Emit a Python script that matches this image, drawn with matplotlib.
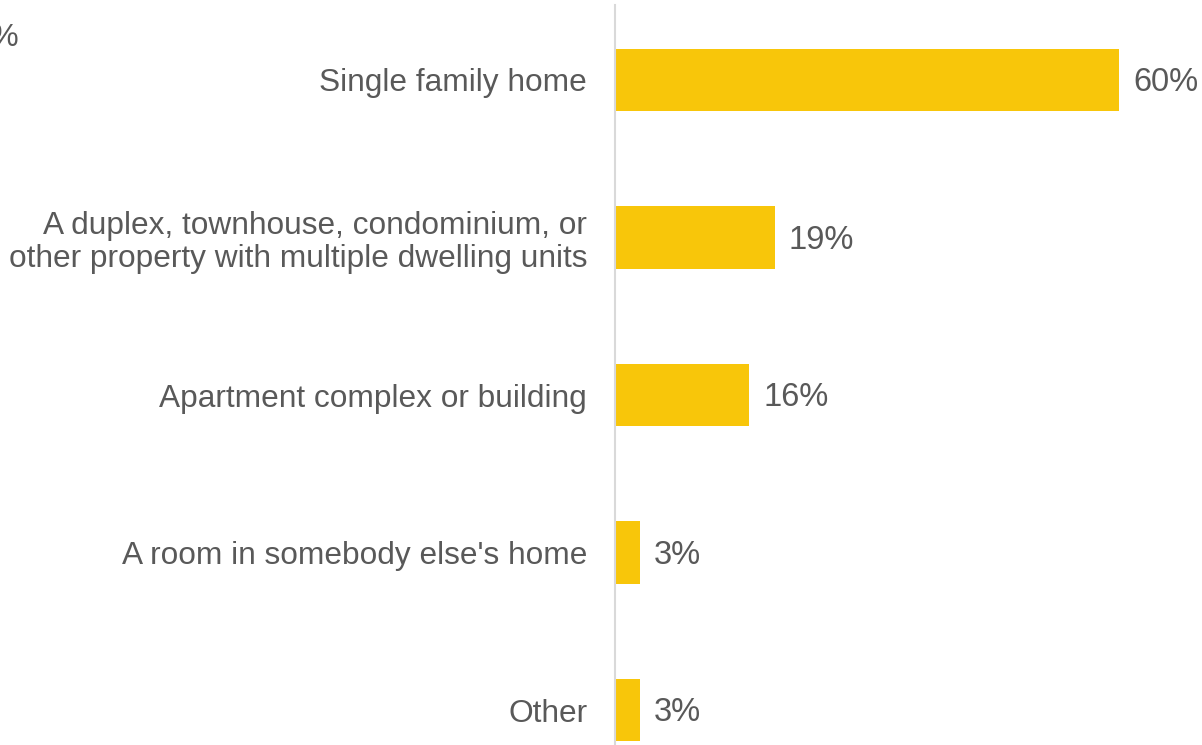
import matplotlib
matplotlib.use("Agg")
import matplotlib.pyplot as plt

categories = [
    "Single family home",
    "A duplex, townhouse, condominium, or\nother property with multiple dwelling units",
    "Apartment complex or building",
    "A room in somebody else's home",
    "Other",
]
values = [60, 19, 16, 3, 3]
value_labels = ["60%", "19%", "16%", "3%", "3%"]

plt.rcParams["font.family"] = ["Liberation Sans", "DejaVu Sans"]
TEXT = "#595959"
BAR = "#F8C60A"

fig = plt.figure(figsize=(12.02, 7.45), dpi=100)
ax = fig.add_axes([615 / 1202, 0, (1202 - 615) / 1202, 740 / 745])

y = range(len(categories))
ax.barh(y, values, height=0.395, color=BAR)

ax.set_xlim(0, (1202 - 615) / 8.4)
ax.set_ylim(4 + 35 / 157.5, -75 / 157.5)

ax.set_yticks(list(y))
ax.set_yticklabels(categories, fontsize=22.8, color=TEXT, linespacing=1.15)
ax.tick_params(axis="y", length=0, pad=20)
ax.set_xticks([])

for s in ["top", "right", "bottom"]:
    ax.spines[s].set_visible(False)
ax.spines["left"].set_color("#d9d9d9")
ax.spines["left"].set_linewidth(1.5)

for yi, v, lab in zip(y, values, value_labels):
    ax.annotate(lab, (v, yi), xytext=(10, -2), textcoords="offset points",
                va="center", ha="left", fontsize=23.5, color=TEXT)

# fragment of a neighbouring label on the left edge
fig.text(-0.022, 1 - 38 / 745, "1%", fontsize=22.8, color=TEXT, va="center", ha="left")

fig.savefig("out.png", dpi=100)
